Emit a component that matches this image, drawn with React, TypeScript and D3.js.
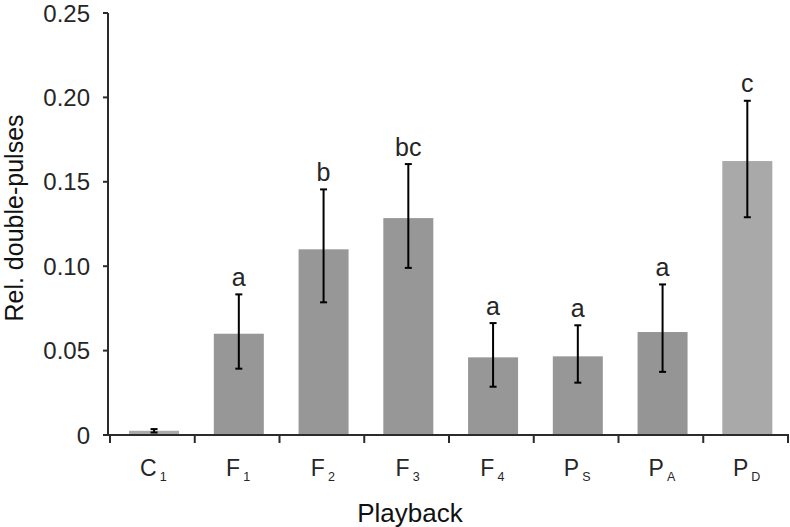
import React from "react";
import * as d3 from "d3";

const categories = ["C", "F", "F", "F", "F", "P", "P", "P"];
const subscripts = ["1", "1", "2", "3", "4", "S", "A", "D"];
const means = [0.0025, 0.06, 0.11, 0.1285, 0.046, 0.0466, 0.061, 0.1623];
const upper = [0.0035, 0.0833, 0.1455, 0.1605, 0.0663, 0.065, 0.0892, 0.198];
const lower = [0.0015, 0.0393, 0.0786, 0.099, 0.0286, 0.031, 0.0374, 0.129];
const letters = ["", "a", "b", "bc", "a", "a", "a", "c"];
const barColors = ["#a9a9a9", "#979797", "#979797", "#979797", "#979797", "#979797", "#959595", "#a9a9a9"];
const yTicks = [0, 0.05, 0.1, 0.15, 0.2, 0.25];

const W = 790;
const H = 527;
const left = 110;
const right = 788;
const top = 13;
const bottom = 435;
const font = "Liberation Sans, Arial, sans-serif";
const axisColor = "#2b2b2b";
const textColor = "#262626";

export default function App() {
  const keys = categories.map((c, i) => c + subscripts[i]);
  const x = d3.scaleBand<string>().domain(keys).range([left, right]).padding(0);
  const y = d3.scaleLinear().domain([0, 0.25]).range([bottom, top]);
  const bw = x.bandwidth();
  const barW = bw * 0.59;
  const barOff = bw * 0.225;
  const tickFmt = (v: number) => (v === 0 ? "0" : d3.format(".2f")(v));
  const boundaries = keys.map((k) => x(k) as number).concat([right]);

  return (
    <svg width={W} height={H} style={{ position: "absolute", left: 0, top: 0 }}>
      <rect width={W} height={H} fill="#fff" />
      {/* bars */}
      {keys.map((k, i) => (
        <rect
          key={k}
          x={(x(k) as number) + barOff}
          y={y(means[i])}
          width={barW}
          height={bottom - y(means[i])}
          fill={barColors[i]}
        />
      ))}
      {/* error bars */}
      {keys.map((k, i) => {
        const cx = (x(k) as number) + barOff + barW / 2;
        return (
          <g key={"e" + k} stroke="#000" strokeWidth={2}>
            <line x1={cx} x2={cx} y1={y(upper[i])} y2={y(lower[i])} />
            <line x1={cx - 3.5} x2={cx + 3.5} y1={y(upper[i])} y2={y(upper[i])} />
            <line x1={cx - 3.5} x2={cx + 3.5} y1={y(lower[i])} y2={y(lower[i])} />
          </g>
        );
      })}
      {/* letters */}
      {keys.map((k, i) => (
        <text
          key={"l" + k}
          x={(x(k) as number) + barOff + barW / 2}
          y={y(upper[i]) - 8.5}
          textAnchor="middle"
          fontFamily={font}
          fontSize={25}
          fill={textColor}
        >
          {letters[i]}
        </text>
      ))}
      {/* y axis */}
      <line x1={left - 2} x2={left - 2} y1={top} y2={bottom} stroke={axisColor} strokeWidth={2} />
      {yTicks.map((t) => (
        <g key={"yt" + t}>
          <line x1={left - 7} x2={left - 2} y1={y(t)} y2={y(t)} stroke={axisColor} strokeWidth={2} />
          <text
            x={90}
            y={y(t)}
            dy="0.36em"
            textAnchor="end"
            fontFamily={font}
            fontSize={24}
            fill={textColor}
          >
            {tickFmt(t)}
          </text>
        </g>
      ))}
      {/* x axis */}
      <line x1={left - 7} x2={right + 1} y1={bottom} y2={bottom} stroke={axisColor} strokeWidth={2} />
      {boundaries.map((b, i) => (
        <line key={"xt" + i} x1={b} x2={b} y1={bottom} y2={bottom + 8} stroke={axisColor} strokeWidth={2} />
      ))}
      {keys.map((k, i) => (
        <text
          key={"c" + k}
          x={(x(k) as number) + bw / 2 + 1}
          y={476}
          textAnchor="middle"
          fontFamily={font}
          fontSize={23}
          fill={textColor}
        >
          {categories[i]}
          <tspan fontSize={12.5} dx={3} dy={5}>
            {subscripts[i]}
          </tspan>
        </text>
      ))}
      {/* axis titles */}
      <text x={410} y={522} textAnchor="middle" fontFamily={font} fontSize={26} fill="#111">
        Playback
      </text>
      <text
        transform={`translate(23, 218) rotate(-90)`}
        textAnchor="middle"
        fontFamily={font}
        fontSize={25}
        fill="#111"
      >
        Rel. double-pulses
      </text>
    </svg>
  );
}
